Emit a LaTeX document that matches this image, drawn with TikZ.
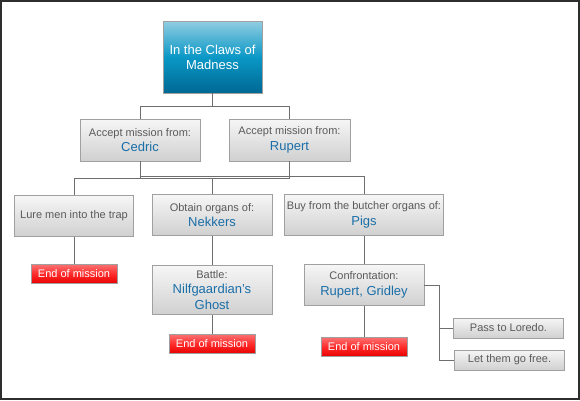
\documentclass[tikz,border=0pt]{standalone}
\usepackage{fontspec}
\setmainfont{Liberation Sans}
\definecolor{framegray}{HTML}{2E2E2E}
\definecolor{linegray}{HTML}{6E6E6E}
\definecolor{boxline}{HTML}{A0A0A0}
\definecolor{boxtop}{HTML}{F6F6F6}
\definecolor{boxbot}{HTML}{D0D0D0}
\definecolor{boxtext}{HTML}{5A5A5A}
\definecolor{nameblue}{HTML}{1A6EA8}
\definecolor{titletop}{HTML}{92CDE2}
\definecolor{titlemid}{HTML}{0A98C6}
\definecolor{titlebot}{HTML}{006894}
\definecolor{endtop}{HTML}{FA7070}
\definecolor{endmid}{HTML}{FF2A2A}
\definecolor{endbot}{HTML}{E80000}
\newcommand{\who}[1]{{\color{nameblue}\fontsize{13}{15.5}\selectfont #1}}

\begin{document}
\begin{tikzpicture}[x=1pt,y=-1pt,
  box/.style={draw=boxline, top color=boxtop, bottom color=boxbot, text=boxtext,
    font=\fontsize{11}{15.5}\selectfont, align=center, inner sep=0pt},
  titlebox/.style={draw=boxline, shading=axis, top color=titletop, bottom color=titlebot,
    middle color=titlemid, text=white, font=\fontsize{13}{15}\selectfont, align=center,
    inner sep=0pt, minimum width=99pt, minimum height=72pt},
  endbox/.style={draw=boxline, top color=endtop, bottom color=endbot, middle color=endmid,
    text=white, font=\fontsize{11}{13}\selectfont, inner sep=0pt,
    minimum width=86pt, minimum height=19pt},
  link/.style={draw=linegray, line width=1pt}]
\useasboundingbox (0,0) rectangle (580,400);
\draw[line width=2pt, draw=framegray] (1,1) rectangle (579,399);

\node[titlebox] (title) at (212.5,57) {In the Claws of\\Madness};

\node[box, minimum width=120pt, minimum height=42pt] (cedric) at (140,140) {Accept mission from:\\\who{Cedric}};
\node[box, minimum width=121pt, minimum height=42pt] (rupert) at (289.5,140) {Accept mission from:\\\who{Rupert}};

\node[box, minimum width=119pt, minimum height=41pt] (lure) at (74,216) {Lure men into the trap};
\node[box, minimum width=120pt, minimum height=41pt] (nekkers) at (212,215) {Obtain organs of:\\\who{Nekkers}};
\node[box, minimum width=159pt, minimum height=41pt] (pigs) at (364,215) {Buy from the butcher organs of:\\\who{Pigs}};

\node[endbox] (endlure) at (74,274) {End of mission};
\node[box, minimum width=120pt, minimum height=49pt] (battle) at (212,290) {Battle:\\\who{Nilfgaardian’s}\\\who{Ghost}};
\node[endbox] (endbattle) at (212,344) {End of mission};

\node[box, minimum width=120pt, minimum height=41pt] (confront) at (364,285) {Confrontation:\\\who{Rupert, Gridley}};
\node[endbox] (endconfront) at (364,347) {End of mission};
\node[box, minimum width=110pt, minimum height=20pt] (loredo) at (508.5,328) {Pass to Loredo.};
\node[box, minimum width=110pt, minimum height=20pt] (free) at (509.5,360) {Let them go free.};

\draw[link] (title.south) -- ++(0,13) -| (cedric.north);
\draw[link] (title.south) -- ++(0,13) -| (rupert.north);
\foreach \p in {cedric,rupert} {
  \draw[link] (\p.south) -- ++(0,17) -| (lure.north);
  \draw[link] (\p.south) -- ++(0,17) -| (nekkers.north);
  \draw[link] (\p.south) -- ++(0,15) -| (pigs.north);
}
\draw[link] (lure) -- (endlure);
\draw[link] (nekkers) -- (battle);
\draw[link] (battle) -- (endbattle);
\draw[link] (pigs) -- (confront);
\draw[link] (confront) -- (endconfront);
\draw[link] (confront.east) -- ++(15,0) |- (loredo.west);
\draw[link] (confront.east) -- ++(15,0) |- (free.west);
\end{tikzpicture}
\end{document}
